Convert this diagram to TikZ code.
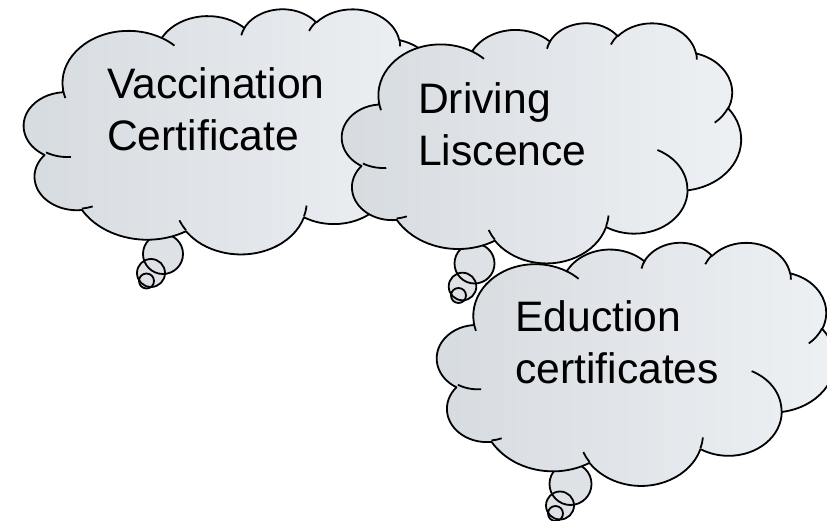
\documentclass[tikz,border=0pt]{standalone}
\usepackage{fontspec}
\setmainfont{Liberation Sans}
\usepackage{tikz}
\usetikzlibrary{positioning}

\definecolor{cloudleft}{RGB}{214,219,224}
\definecolor{cloudright}{RGB}{238,241,244}
\definecolor{cloudmid}{RGB}{222,226,230}

\tikzset{
  cloudline/.style={draw=black, line width=1.8bp, line join=round},
  cloudbody/.style={cloudline, left color=cloudleft, right color=cloudright},
  tailbubble/.style={fill=cloudmid},
  cloudtext/.style={font=\fontsize{42.8}{52.5}\selectfont, align=left, anchor=north west, inner sep=0pt}
}

\newcommand{\cloudshape}[4]{%
  \begin{scope}[shift={(#1,#2)}, xscale=#3/432, yscale=#4/432]
    \path[cloudbody] (39,143.7)
      \foreach \s/\d/\a/\b in {-187.75/128.09/67.53/91.90, -152.03/106.58/53.33/72.67,
          -153.49/116.17/43.65/59.45, -139.70/129.49/48.57/65.95, -74.77/97.98/53.33/72.73,
          -37.59/119.45/67.75/92.20, 0.46/121.51/57.85/78.67, 16.84/129.39/67.52/92.15,
          59.03/90.79/77.20/105.43, 83.31/137.01/43.60/59.18, 120.35/145.44/43.45/59.45}
        { arc[start angle=\s, delta angle=\d, x radius=\a, y radius=\b] } -- cycle;
    \foreach \x/\y/\s/\d/\a/\b in {46.93/261.77/85.55/34.80/43.45/59.45,
        69.28/348.99/68.23/15.07/43.60/59.18, 164.78/390.90/146.23/12.24/67.52/92.15,
        288.27/347.51/4.74/12.11/67.52/92.15, 341.29/229.54/-64.00/64.46/57.85/78.67,
        417.98/153.54/23.21/26.45/53.33/72.73, 383.24/54.26/-10.21/11.03/48.57/65.95,
        290.78/39.52/-156.28/16.58/48.57/65.95, 221.41/47.20/-167.73/14.24/43.65/59.45,
        140.00/51.92/-59.66/13.93/67.53/91.90, 41.27/157.89/163.19/9.06/67.53/91.90}
      \draw[cloudline] (\x,\y) arc[start angle=\s, delta angle=\d, x radius=\a, y radius=\b];
  \end{scope}}

\begin{document}
\begin{tikzpicture}[x=1bp, y=-1bp]
    \useasboundingbox (0,0) rectangle (827,521);

    \foreach \cx/\cy/\r in {163/254/20, 151/273/14, 146.5/281/7.5}
        \fill[tailbubble] (\cx,\cy) circle[radius=\r];
    \foreach \cx/\cy/\r in {163/254/20, 151/273/14, 146.5/281/7.5}
        \draw[cloudline] (\cx,\cy) circle[radius=\r];
    \cloudshape{25}{8.5}{422}{245}
    \node[cloudtext] (vaccination) at (107,67) {Vaccination\\Certificate};

    \foreach \cx/\cy/\r in {474.5/263.5/20, 462.5/286.5/13.8, 458.5/295.5/7.5}
        \fill[tailbubble] (\cx,\cy) circle[radius=\r];
    \foreach \cx/\cy/\r in {474.5/263.5/20, 462.5/286.5/13.8, 458.5/295.5/7.5}
        \draw[cloudline] (\cx,\cy) circle[radius=\r];
    \cloudshape{343}{22.5}{398}{240}
    \node[cloudtext] (driving) at (418,82) {Driving\\Liscence};

    \foreach \cx/\cy/\r in {570.5/484/21, 560/505.5/14, 555.5/513.5/7.5}
        \fill[tailbubble] (\cx,\cy) circle[radius=\r];
    \foreach \cx/\cy/\r in {570.5/484/21, 560/505.5/14, 555.5/513.5/7.5}
        \draw[cloudline] (\cx,\cy) circle[radius=\r];
    \cloudshape{438}{242}{397}{243}
    \node[cloudtext] (education) at (515,300) {Eduction\\certificates};
\end{tikzpicture}
\end{document}
